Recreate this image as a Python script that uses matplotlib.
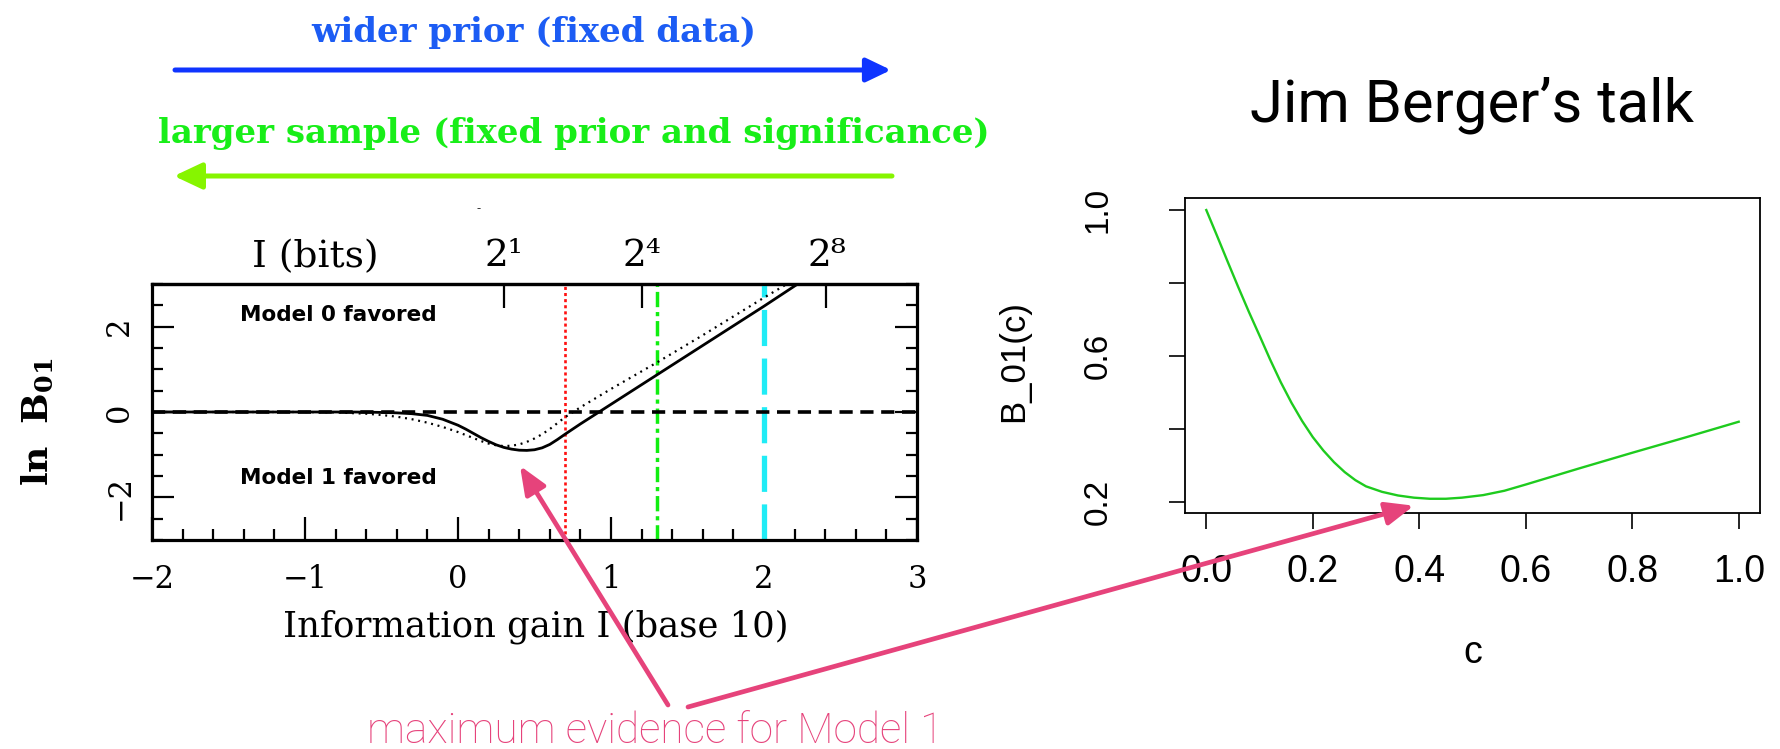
import numpy as np
import matplotlib
matplotlib.use("Agg")
import matplotlib.pyplot as plt
from matplotlib.ticker import FixedLocator, MultipleLocator

plt.rcParams["lines.scale_dashes"] = False
plt.rcParams["mathtext.fontset"] = "dejavuserif"

# ---------------- data ----------------
# left panel: ln B01 versus information gain I (base 10)
gain_solid = [-2.0, -1.0, -0.7, -0.6, -0.5, -0.4, -0.3, -0.2, -0.1, 0.0, 0.05, 0.1,
              0.15, 0.2, 0.25, 0.3, 0.35, 0.4, 0.45, 0.5, 0.55, 0.6, 0.65, 0.7,
              0.8, 0.9, 1.0, 1.5, 2.0, 2.22]
lnb_solid = [0.0, 0.0, 0.0, -0.003, -0.01, -0.02, -0.04, -0.08, -0.17, -0.31, -0.40,
             -0.50, -0.60, -0.69, -0.77, -0.83, -0.87, -0.895, -0.90, -0.885, -0.84,
             -0.76, -0.645, -0.52, -0.28, -0.05, 0.18, 1.33, 2.48, 3.0]

gain_dotted = [-2.0, -1.0, -0.8, -0.6, -0.5, -0.4, -0.3, -0.2, -0.1, 0.0, 0.1, 0.15,
               0.2, 0.25, 0.3, 0.35, 0.4, 0.45, 0.5, 0.55, 0.6, 0.7, 0.8, 1.0, 1.3,
               1.6, 2.0, 2.15]
lnb_dotted = [0.0, 0.0, -0.01, -0.04, -0.07, -0.11, -0.17, -0.25, -0.35, -0.47, -0.61,
              -0.68, -0.74, -0.78, -0.80, -0.79, -0.76, -0.70, -0.62, -0.52, -0.40,
              -0.12, 0.11, 0.54, 1.16, 1.80, 2.68, 3.0]

marker_gain = [0.7, 1.3, 2.0]          # red dotted, green dash-dot, cyan dashed
bits_exponents = [1, 4, 8]             # top axis: I in bits = 2^k
bits_labels = ["2\u00b9", "2\u2074", "2\u2078"]
left_xticks = [-2, -1, 0, 1, 2, 3]
left_yticks = [-2, 0, 2]

# right panel: B_01(c)
c_vals = [0.0, 0.02, 0.04, 0.06, 0.08, 0.10, 0.12, 0.14, 0.16, 0.18, 0.20, 0.22,
          0.24, 0.26, 0.28, 0.30, 0.33, 0.36, 0.39, 0.42, 0.45, 0.48, 0.52, 0.56,
          0.60, 0.65, 0.70, 0.80, 0.90, 1.0]
b01_vals = [1.0, 0.93, 0.859, 0.789, 0.721, 0.656, 0.59, 0.528, 0.472, 0.422, 0.378,
            0.341, 0.309, 0.282, 0.26, 0.243, 0.228, 0.218, 0.212, 0.209, 0.209,
            0.212, 0.219, 0.231, 0.248, 0.27, 0.292, 0.335, 0.377, 0.42]
right_xticks = [0.0, 0.2, 0.4, 0.6, 0.8, 1.0]
right_yticks = [0.2, 0.4, 0.6, 0.8, 1.0]
right_ylabels = ["0.2", "", "0.6", "", "1.0"]

# ---------------- figure ----------------
W, H = 1780, 749
fig = plt.figure(figsize=(W / 100, H / 100), dpi=100)
fig.patch.set_facecolor("white")


def box(l, t, r, b):
    return [l / W, 1 - b / H, (r - l) / W, (b - t) / H]


SERIF = "DejaVu Serif"
SANS = "Liberation Sans"

# ---------- left panel ----------
ax = fig.add_axes(box(152, 284, 917, 540))
ax.set_xlim(-2, 3)
ax.set_ylim(-3, 3)

ax.axvline(marker_gain[0], color="#ff1010", lw=1.9, ls=(0, (2.2, 2.2)), zorder=2)
ax.axvline(marker_gain[1], color="#10ee10", lw=2.5, ls=(0, (11, 3.5, 3, 3.5)), zorder=2)
ax.axvline(marker_gain[2], color="#20ecf6", lw=3.8, ls=(0, (26, 9)), zorder=2)
ax.axhline(0, color="black", lw=2.6, ls=(0, (9.5, 5.5)), zorder=3)
ax.plot(gain_dotted, lnb_dotted, color="black", lw=1.6, ls=(0, (1.4, 3.4)), zorder=4)
ax.plot(gain_solid, lnb_solid, color="black", lw=2.0, zorder=5)

for s in ax.spines.values():
    s.set_linewidth(2.3)

ax.xaxis.set_major_locator(FixedLocator(left_xticks))
ax.xaxis.set_minor_locator(MultipleLocator(0.2))
ax.yaxis.set_major_locator(FixedLocator(left_yticks))
ax.yaxis.set_minor_locator(MultipleLocator(0.5))
ax.tick_params(axis="x", which="major", direction="in", length=16.5, width=1.6,
               bottom=True, top=False, labelsize=22, pad=17)
ax.tick_params(axis="x", which="minor", direction="in", length=8, width=1.6,
               bottom=True, top=False)
ax.tick_params(axis="y", which="major", direction="in", length=16, width=1.6,
               left=True, right=True, labelsize=22, pad=12, labelrotation=90)
ax.tick_params(axis="y", which="minor", direction="in", length=8, width=1.6,
               left=True, right=True)
for lab in ax.get_xticklabels() + ax.get_yticklabels():
    lab.set_family(SERIF)
for lab in ax.get_yticklabels():
    lab.set_va("center")

ax.set_xlabel("Information gain I (base 10)", family=SERIF, fontsize=25.5, va="center")
ax.xaxis.set_label_coords(0.502, -0.34)
ax.set_ylabel(r"$\mathbf{ln\ \ B_{01}}$", fontsize=26, va="center")
ax.yaxis.set_label_coords(-0.150, 0.461)

secax = ax.secondary_xaxis("top")
secax.set_xticks(np.log10(2.0 ** np.array(bits_exponents)), labels=bits_labels)
secax.tick_params(direction="in", length=17, width=1.6, labelsize=27, pad=7)
secax.spines["top"].set_linewidth(2.3)
for lab in secax.get_xticklabels():
    lab.set_family(SERIF)
ax.text(0.213, 1.105, "I (bits)", transform=ax.transAxes, family=SERIF,
        fontsize=27, ha="center", va="center")

ax.text(-0.78, 2.27, "Model 0 favored", family="DejaVu Sans", weight="bold",
        fontsize=15.5, ha="center", va="center")
ax.text(-0.78, -1.55, "Model 1 favored", family="DejaVu Sans", weight="bold",
        fontsize=15.5, ha="center", va="center")

fig.text(479 / W, 1 - 209 / H, "-", family=SERIF, fontsize=9, ha="center", va="center")

# ---------- right panel ----------
ax2 = fig.add_axes(box(1185, 198, 1760, 513))
ax2.plot(c_vals, b01_vals, color="#1ecb1e", lw=1.7)
ax2.set_xlim(-0.04, 1.04)
ax2.set_ylim(0.170, 1.033)
for s in ax2.spines.values():
    s.set_linewidth(1.3)
ax2.set_xticks(right_xticks, labels=[f"{v:.1f}" for v in right_xticks])
ax2.set_yticks(right_yticks, labels=right_ylabels)
ax2.tick_params(axis="x", direction="out", length=11.5, width=1.2, labelsize=27, pad=18)
ax2.tick_params(axis="y", direction="out", length=11.5, width=1.2, labelsize=24,
                pad=40, labelrotation=90)
for lab in ax2.get_xticklabels() + ax2.get_yticklabels():
    lab.set_family(SANS)
for lab in ax2.get_yticklabels():
    lab.set_va("center")
ax2.set_xlabel("c", family=SANS, fontsize=27, va="center")
ax2.xaxis.set_label_coords(0.5, -0.444)
ax2.set_ylabel("B_01(c)", family=SANS, fontsize=25, va="center")
ax2.yaxis.set_label_coords((1014 - 1185) / 575, (513 - 361) / 315)

fig.text(1472 / W, 1 - 122 / H, "Jim Berger\u2019s talk", family="Roboto",
         weight="normal", fontsize=43, ha="center", va="baseline", color="black")

# ---------- headings and arrows ----------
fig.text(534 / W, 1 - 42 / H, "wider prior (fixed data)", family=SERIF,
         weight="bold", fontsize=24.5, ha="center", va="baseline", color="#1c5cf4")
fig.text(574 / W, 1 - 143 / H, "larger sample (fixed prior and significance)",
         family=SERIF, weight="bold", fontsize=24.5, ha="center", va="baseline",
         color="#18ee18")
fig.text(655 / W, 1 - 743 / H, "maximum evidence for Model 1", family="Roboto",
         weight="light", fontsize=30.5, ha="center", va="baseline", color="#e6437b")

ov = fig.add_axes([0, 0, 1, 1], zorder=10)
ov.set_xlim(0, W)
ov.set_ylim(H, 0)
ov.axis("off")
ov.patch.set_alpha(0)

ov.annotate("", xy=(891, 70), xytext=(175, 70), xycoords="data",
            arrowprops=dict(arrowstyle="-|>,head_length=0.75,head_width=0.36",
                            mutation_scale=20, lw=3.6, color="#0f34ff",
                            shrinkA=0, shrinkB=0))
ov.annotate("", xy=(174, 176), xytext=(892, 176), xycoords="data",
            arrowprops=dict(arrowstyle="-|>,head_length=0.85,head_width=0.4",
                            mutation_scale=20, lw=3.6, color="#86f500",
                            shrinkA=0, shrinkB=0))

pink = "#e6437b"
ov.annotate("", xy=(0.405, -1.26), xycoords=ax.transData,
            xytext=(668, 705), textcoords=ov.transData,
            arrowprops=dict(arrowstyle="-|>,head_length=0.85,head_width=0.35",
                            mutation_scale=20, lw=3.4, color=pink,
                            shrinkA=0, shrinkB=0))
ov.annotate("", xy=(0.39, 0.19), xycoords=ax2.transData,
            xytext=(688, 707), textcoords=ov.transData,
            arrowprops=dict(arrowstyle="-|>,head_length=0.85,head_width=0.35",
                            mutation_scale=20, lw=3.4, color=pink,
                            shrinkA=0, shrinkB=0))

fig.savefig("out.png", dpi=100, facecolor="white")
